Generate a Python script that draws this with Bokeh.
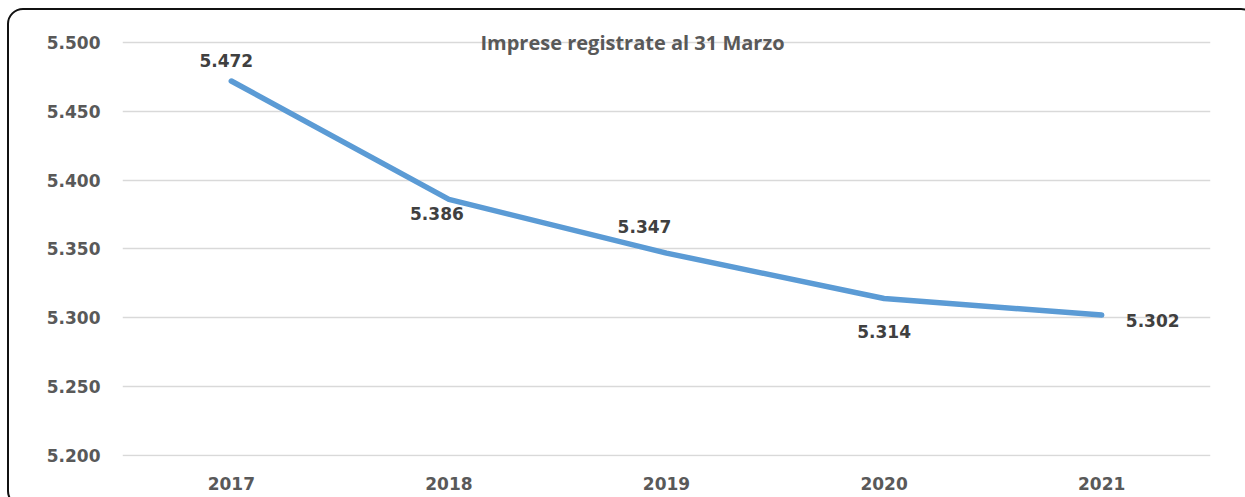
from bokeh.plotting import figure
from bokeh.models import (ColumnDataSource, FactorRange, Range1d, FixedTicker,
                          CustomJSTickFormatter, Label, InlineStyleSheet)
from bokeh.core.properties import value
from bokeh.embed import file_html
from bokeh.resources import INLINE

# ---- data ----
years = ["2017", "2018", "2019", "2020", "2021"]
imprese = [5472, 5386, 5347, 5314, 5302]
y_ticks = [5200, 5250, 5300, 5350, 5400, 5450, 5500]
title_text = "Imprese registrate al 31 Marzo"

# label placement (screen offsets, px)
label_dx = [-5, -12, -22, 0, 51]
label_dy = [-21, 14, -27, 33, 5]

labels = [f"{v:,}".replace(",", ".") for v in imprese]

src = ColumnDataSource(dict(x=years, y=imprese, text=labels,
                            dx=label_dx, dy=label_dy))

frame_css = InlineStyleSheet(css="""
:host { position: relative; overflow: hidden; }
:host::after {
  content: "";
  position: absolute;
  left: 7px; top: 8px;
  width: 1246px; height: 495px;
  border: 2px solid #111111;
  border-radius: 16px;
  pointer-events: none;
}
""")

p = figure(x_range=FactorRange(*years, range_padding=0),
           y_range=Range1d(5199.27, 5511.6),
           width=1245, height=497,
           output_backend="svg", toolbar_location=None,
           min_border_left=122, min_border_right=35,
           min_border_top=26, min_border_bottom=41,
           background_fill_color="white", border_fill_color="white",
           stylesheets=[frame_css])
p.outline_line_color = None

p.line("x", "y", source=src, line_color="#5B9BD5", line_width=5.5,
       line_cap="round", line_join="round")

p.text("x", "y", text="text", source=src, x_offset="dx", y_offset="dy",
       text_align="center", text_baseline="middle",
       text_font=value("DejaVu Sans"), text_font_style="bold",
       text_font_size="17px", text_color="#404040")

# axes
p.yaxis.ticker = FixedTicker(ticks=y_ticks)
p.yaxis.formatter = CustomJSTickFormatter(code="""
    const s = Math.round(tick).toString();
    return s.length > 3 ? s.slice(0, -3) + '.' + s.slice(-3) : s;
""")
for ax in (p.xaxis[0], p.yaxis[0]):
    ax.axis_line_color = None
    ax.major_tick_line_color = None
    ax.minor_tick_line_color = None
    ax.major_tick_out = 0
    ax.major_tick_in = 0
    ax.major_label_text_font = "DejaVu Sans"
    ax.major_label_text_font_style = "bold"
    ax.major_label_text_font_size = "17px"
    ax.major_label_text_color = "#595959"
p.yaxis.major_label_standoff = 22
p.xaxis.major_label_standoff = 20

p.xgrid.grid_line_color = None
p.ygrid.grid_line_color = "#D9D9D9"
p.ygrid.grid_line_width = 1.5

# title, centred on the chart box (x in screen px from the frame's left edge)
p.add_layout(Label(x=510, y=5500, x_units="screen", y_units="data",
                   text=title_text, text_align="center", text_baseline="middle",
                   text_font="Open Sans", text_font_style="bold",
                   text_font_size="20px", text_color="#595959"))

open("out.html", "w").write(file_html(p, INLINE))
